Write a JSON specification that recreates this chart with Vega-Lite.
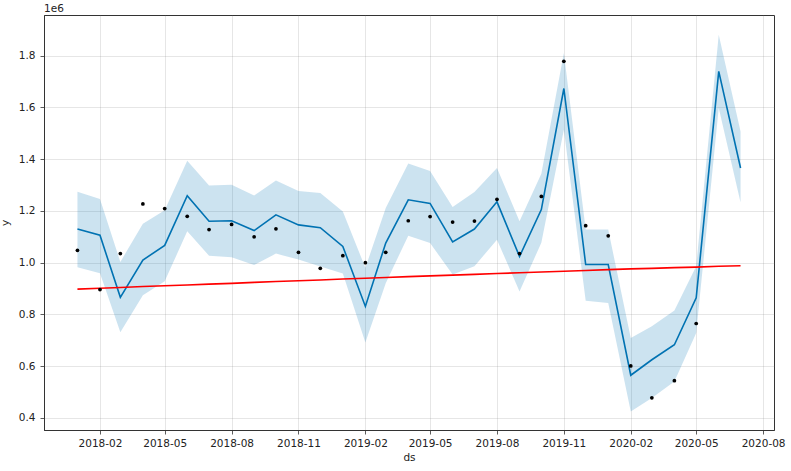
{
  "$schema": "https://vega.github.io/schema/vega-lite/v6.json",
  "width": 730,
  "height": 415,
  "autosize": {"type": "none"},
  "padding": {"left": 44, "top": 15, "right": 17, "bottom": 41},
  "background": "white",
  "title": {"text": "1e6", "anchor": "start", "frame": "group", "fontSize": 10.5, "fontWeight": "normal", "font": "DejaVu Sans", "color": "#222", "offset": 1},
  "config": {
    "view": {"stroke": "#333", "strokeWidth": 1},
    "axis": {
      "labelFont": "DejaVu Sans", "labelFontSize": 10.5, "labelColor": "#222",
      "titleFont": "DejaVu Sans", "titleFontSize": 10.5, "titleColor": "#222", "titleFontWeight": "normal",
      "domainColor": "#333", "tickColor": "#333", "tickSize": 4, "tickWidth": 0.8,
      "gridColor": "#808080", "gridOpacity": 0.2, "gridWidth": 1
    }
  },
  "data": {
    "values": [
      {"ds": "2018-01-01", "y": 1048000, "yhat": 1130000, "lo": 982000, "hi": 1274000, "trend": 898000},
      {"ds": "2018-02-01", "y": 896000, "yhat": 1106000, "lo": 959000, "hi": 1246000, "trend": 901000},
      {"ds": "2018-03-01", "y": 1035000, "yhat": 866000, "lo": 731000, "hi": 1003000, "trend": 904000},
      {"ds": "2018-04-01", "y": 1227000, "yhat": 1010000, "lo": 874000, "hi": 1150000, "trend": 908000},
      {"ds": "2018-05-01", "y": 1209000, "yhat": 1067000, "lo": 928000, "hi": 1203000, "trend": 911000},
      {"ds": "2018-06-01", "y": 1179000, "yhat": 1259000, "lo": 1121000, "hi": 1394000, "trend": 914000},
      {"ds": "2018-07-01", "y": 1128000, "yhat": 1160000, "lo": 1027000, "hi": 1298000, "trend": 917000},
      {"ds": "2018-08-01", "y": 1148000, "yhat": 1162000, "lo": 1021000, "hi": 1301000, "trend": 920000},
      {"ds": "2018-09-01", "y": 1100000, "yhat": 1124000, "lo": 991000, "hi": 1260000, "trend": 924000},
      {"ds": "2018-10-01", "y": 1131000, "yhat": 1185000, "lo": 1035000, "hi": 1318000, "trend": 927000},
      {"ds": "2018-11-01", "y": 1040000, "yhat": 1146000, "lo": 1012000, "hi": 1277000, "trend": 930000},
      {"ds": "2018-12-01", "y": 978000, "yhat": 1135000, "lo": 985000, "hi": 1269000, "trend": 933000},
      {"ds": "2019-01-01", "y": 1027000, "yhat": 1063000, "lo": 958000, "hi": 1198000, "trend": 937000},
      {"ds": "2019-02-01", "y": 1000000, "yhat": 831000, "lo": 692000, "hi": 980000, "trend": 940000},
      {"ds": "2019-03-01", "y": 1040000, "yhat": 1076000, "lo": 921000, "hi": 1211000, "trend": 943000},
      {"ds": "2019-04-01", "y": 1162000, "yhat": 1243000, "lo": 1104000, "hi": 1383000, "trend": 946000},
      {"ds": "2019-05-01", "y": 1178000, "yhat": 1229000, "lo": 1076000, "hi": 1354000, "trend": 949000},
      {"ds": "2019-06-01", "y": 1157000, "yhat": 1080000, "lo": 954000, "hi": 1215000, "trend": 952000},
      {"ds": "2019-07-01", "y": 1161000, "yhat": 1130000, "lo": 986000, "hi": 1273000, "trend": 955000},
      {"ds": "2019-08-01", "y": 1245000, "yhat": 1235000, "lo": 1089000, "hi": 1366000, "trend": 958000},
      {"ds": "2019-09-01", "y": 1035000, "yhat": 1024000, "lo": 889000, "hi": 1160000, "trend": 961000},
      {"ds": "2019-10-01", "y": 1256000, "yhat": 1205000, "lo": 1077000, "hi": 1344000, "trend": 964000},
      {"ds": "2019-11-01", "y": 1778000, "yhat": 1673000, "lo": 1514000, "hi": 1810000, "trend": 967000},
      {"ds": "2019-12-01", "y": 1143000, "yhat": 993000, "lo": 853000, "hi": 1128000, "trend": 970000},
      {"ds": "2020-01-01", "y": 1104000, "yhat": 993000, "lo": 844000, "hi": 1128000, "trend": 973000},
      {"ds": "2020-02-01", "y": 601000, "yhat": 565000, "lo": 425000, "hi": 709000, "trend": 976000},
      {"ds": "2020-03-01", "y": 478000, "yhat": 625000, "lo": 477000, "hi": 754000, "trend": 978000},
      {"ds": "2020-04-01", "y": 544000, "yhat": 683000, "lo": 541000, "hi": 815000, "trend": 981000},
      {"ds": "2020-05-01", "y": 765000, "yhat": 864000, "lo": 728000, "hi": 986000, "trend": 983000},
      {"ds": "2020-06-01", "y": null, "yhat": 1739000, "lo": 1598000, "hi": 1881000, "trend": 986000},
      {"ds": "2020-07-01", "y": null, "yhat": 1366000, "lo": 1233000, "hi": 1507000, "trend": 988000}
    ]
  },
  "encoding": {
    "x": {
      "field": "ds", "type": "temporal",
      "scale": {"type": "utc", "domain": [{"year": 2017, "month": 11, "date": 16, "utc": true}, {"year": 2020, "month": 8, "date": 16, "utc": true}]},
      "axis": {
        "title": "ds", "labelExpr": "utcFormat(datum.value, '%Y-%m')", "labelPadding": 4, "titlePadding": 4,
        "values": [
          {"year": 2018, "month": 2, "date": 1, "utc": true},
          {"year": 2018, "month": 5, "date": 1, "utc": true},
          {"year": 2018, "month": 8, "date": 1, "utc": true},
          {"year": 2018, "month": 11, "date": 1, "utc": true},
          {"year": 2019, "month": 2, "date": 1, "utc": true},
          {"year": 2019, "month": 5, "date": 1, "utc": true},
          {"year": 2019, "month": 8, "date": 1, "utc": true},
          {"year": 2019, "month": 11, "date": 1, "utc": true},
          {"year": 2020, "month": 2, "date": 1, "utc": true},
          {"year": 2020, "month": 5, "date": 1, "utc": true},
          {"year": 2020, "month": 8, "date": 1, "utc": true}
        ]
      }
    }
  },
  "layer": [
    {
      "mark": {"type": "area", "color": "#0072B2", "opacity": 0.2},
      "encoding": {
        "y": {"field": "lo", "type": "quantitative",
          "scale": {"domain": [353500, 1957000], "nice": false, "zero": false},
          "axis": {"title": "y", "values": [400000, 600000, 800000, 1000000, 1200000, 1400000, 1600000, 1800000], "labelExpr": "format(datum.value / 1000000, '.1f')", "labelPadding": 5, "titlePadding": 8}},
        "y2": {"field": "hi"}
      }
    },
    {
      "mark": {"type": "line", "color": "#0072B2", "strokeWidth": 1.6},
      "encoding": {"y": {"field": "yhat", "type": "quantitative"}}
    },
    {
      "mark": {"type": "line", "color": "#ff0000", "strokeWidth": 1.6},
      "encoding": {"y": {"field": "trend", "type": "quantitative"}}
    },
    {
      "transform": [{"filter": "isValid(datum.y)"}],
      "mark": {"type": "circle", "color": "black", "opacity": 1, "size": 14},
      "encoding": {"y": {"field": "y", "type": "quantitative"}}
    }
  ]
}
